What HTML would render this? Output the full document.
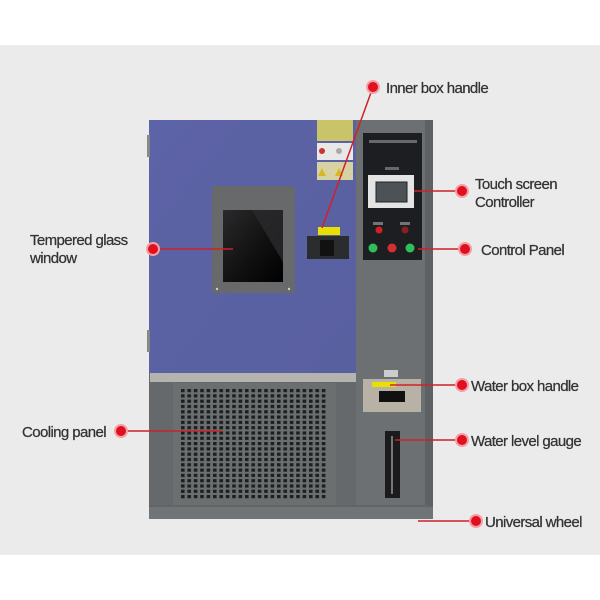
<!DOCTYPE html>
<html><head><meta charset="utf-8"><style>
html,body{margin:0;padding:0;background:#fff;}
svg{display:block;}
text{font-family:"Liberation Sans",sans-serif;fill:#333;font-size:15px;letter-spacing:-0.6px;stroke:#333;stroke-width:0.25px;}
</style></head><body>
<svg width="600" height="600" viewBox="0 0 600 600" xmlns="http://www.w3.org/2000/svg">
<defs>
<pattern id="holes" x="180" y="388" width="6.4" height="5.3" patternUnits="userSpaceOnUse">
<rect width="6.4" height="5.3" fill="#6b6f70"/>
<rect x="1" y="1" width="3.6" height="3.2" fill="#1c1e1f"/>
</pattern>
<linearGradient id="glass" x1="0" y1="0" x2="1" y2="1">
<stop offset="0" stop-color="#2a2a2c"/><stop offset="0.55" stop-color="#111"/><stop offset="1" stop-color="#000"/>
</linearGradient>
<linearGradient id="blue" x1="0" y1="0" x2="1" y2="1">
<stop offset="0" stop-color="#5c63a6"/><stop offset="1" stop-color="#5960a0"/>
</linearGradient>
</defs>
<rect x="0" y="45" width="600" height="510" fill="#ebebeb"/>

<rect x="149" y="120" width="284" height="399" fill="#66696b"/>
<rect x="355" y="120" width="78" height="386" fill="#6d7072"/>
<rect x="425" y="120" width="8" height="386" fill="#5e6163"/>
<rect x="149" y="120" width="207" height="253" fill="url(#blue)"/>
<rect x="147" y="135" width="3" height="22" fill="#888"/>
<rect x="147" y="330" width="3" height="22" fill="#888"/>
<rect x="150" y="373" width="206" height="9" fill="#b5b3ad"/>
<rect x="150" y="382" width="206" height="124" fill="#66696b"/>
<rect x="173" y="383" width="163" height="122" fill="#6b6f70"/>
<rect x="180" y="388" width="148" height="112" fill="url(#holes)"/>
<rect x="149" y="505" width="284" height="14" fill="#717476"/>
<line x1="149" y1="506" x2="433" y2="506" stroke="#555" stroke-width="1"/>

<rect x="212" y="186" width="83" height="107" fill="#67696b"/>
<rect x="223" y="210" width="60" height="72" fill="url(#glass)"/>
<polygon points="252,210 283,210 283,262" fill="#2b2b2d" opacity="0.8"/>
<circle cx="217" cy="289" r="1.2" fill="#ccc"/><circle cx="289" cy="289" r="1.2" fill="#ccc"/>

<rect x="317" y="120" width="36" height="21" fill="#c9c46a"/>
<rect x="317" y="143" width="36" height="17" fill="#e8e8e8"/>
<rect x="317" y="162" width="36" height="18" fill="#d6d2a4"/>
<circle cx="322" cy="151" r="3" fill="#c33"/><circle cx="339" cy="151" r="3" fill="#aaa"/>
<polygon points="322,168 318,176 326,176" fill="#d8b820"/><polygon points="339,168 335,176 343,176" fill="#d8b820"/>

<rect x="318" y="227" width="22" height="8" fill="#e8e000"/>
<rect x="307" y="236" width="42" height="23" fill="#2a2c2e"/>
<rect x="320" y="240" width="14" height="16" fill="#111"/>

<rect x="363" y="133" width="59" height="127" fill="#1c1e22"/>
<rect x="369" y="140" width="48" height="3" fill="#888" opacity="0.7"/>
<rect x="385" y="167" width="14" height="3" fill="#888" opacity="0.7"/>
<rect x="368" y="175" width="46" height="33" fill="#e4e4e4"/>
<rect x="376" y="182" width="31" height="20" fill="#4d5256" stroke="#222"/>
<rect x="373" y="222" width="10" height="3" fill="#999" opacity="0.7"/>
<rect x="400" y="222" width="10" height="3" fill="#999" opacity="0.7"/>
<circle cx="379" cy="230" r="3.5" fill="#d31f1f"/><circle cx="405" cy="230" r="3.5" fill="#8a1f1f"/>
<circle cx="373" cy="248" r="4.5" fill="#2fbf5a"/><circle cx="392" cy="248" r="4.5" fill="#d53030"/><circle cx="410" cy="248" r="4.5" fill="#2fbf5a"/>

<rect x="384" y="370" width="14" height="7" fill="#ccc"/>
<rect x="363" y="379" width="58" height="33" fill="#b8b2a4"/>
<rect x="372" y="382" width="24" height="5" fill="#e8e000"/>
<rect x="379" y="391" width="26" height="11" fill="#111"/>

<rect x="385" y="431" width="15" height="67" fill="#1b1b1d"/>
<rect x="391" y="436" width="2" height="58" fill="#777"/>

<g stroke="#d0202a" stroke-width="1.5" fill="none">
<line x1="373" y1="87" x2="322" y2="228"/>
<line x1="414" y1="191" x2="462" y2="191"/>
<line x1="418" y1="249" x2="465" y2="249"/>
<line x1="153" y1="249" x2="233" y2="249"/>
<line x1="121" y1="431" x2="222" y2="431"/>
<line x1="390" y1="385" x2="462" y2="385"/>
<line x1="395" y1="440" x2="462" y2="440"/>
<line x1="418" y1="521" x2="476" y2="521"/>
</g>
<g fill="#e01020" stroke="#f3a0a4" stroke-width="2">
<circle cx="373" cy="87" r="6"/>
<circle cx="462" cy="191" r="6"/>
<circle cx="465" cy="249" r="6"/>
<circle cx="153" cy="249" r="6"/>
<circle cx="121" cy="431" r="6"/>
<circle cx="462" cy="385" r="6"/>
<circle cx="462" cy="440" r="6"/>
<circle cx="476" cy="521" r="6"/>
</g>

<text x="386" y="93">Inner box handle</text>
<text x="475" y="189">Touch screen</text>
<text x="475" y="207">Controller</text>
<text x="481" y="255">Control Panel</text>
<text x="30" y="245">Tempered glass</text>
<text x="30" y="263">window</text>
<text x="22" y="437">Cooling panel</text>
<text x="471" y="391">Water box handle</text>
<text x="471" y="446">Water level gauge</text>
<text x="485" y="527">Universal wheel</text>
</svg>
</body></html>
